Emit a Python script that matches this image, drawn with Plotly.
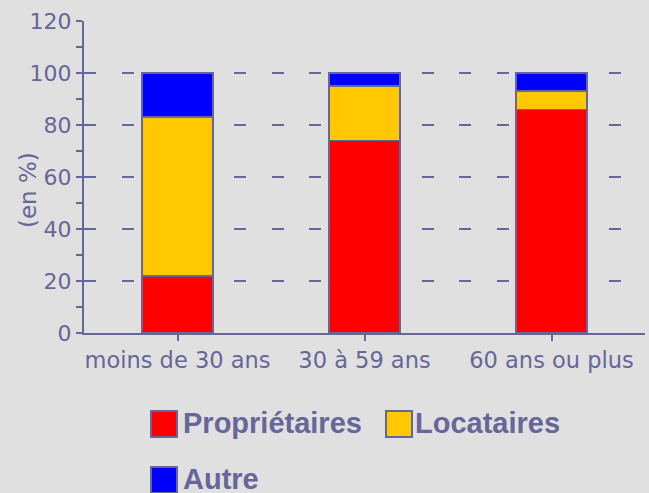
import plotly.graph_objects as go

categories = ["moins de 30 ans", "30 à 59 ans", "60 ans ou plus"]
proprietaires = [22, 74, 86]
locataires = [61, 21, 7]
autre = [17, 5, 7]
series_names = ["Propriétaires", "Locataires", "Autre"]
series_colors = ["#ff0000", "#ffc800", "#0000ff"]
y_ticks = [0, 20, 40, 60, 80, 100, 120]

W, H = 649, 493
L, R, T, B = 84, 4, 21, 160
PW, PH = W - L - R, H - T - B
INK = "#666699"
BG = "#e0e0e0"

def px_x(px):
    return (px - L) / PW

def px_y(py):
    return (H - B - py) / PH

fig = go.Figure()
for name, vals, col in zip(series_names, [proprietaires, locataires, autre], series_colors):
    fig.add_trace(go.Bar(
        x=categories, y=vals, name=name, width=0.38,
        marker=dict(color=col, line=dict(color=INK, width=1.5)),
        showlegend=False,
    ))

fig.update_layout(
    width=W, height=H,
    margin=dict(l=L, r=R, t=T, b=B, pad=0),
    paper_bgcolor=BG, plot_bgcolor=BG,
    barmode="stack",
    hovermode=False,
    font=dict(family="DejaVu Sans", size=22, color=INK),
    xaxis=dict(
        type="category", range=[-0.5, 2.5],
        showline=True, linecolor=INK, linewidth=2,
        ticks="outside", ticklen=6, tickwidth=2, tickcolor=INK,
        showgrid=False, zeroline=False,
        tickfont=dict(family="DejaVu Sans", size=22.5, color=INK),
    ),
    xaxis2=dict(
        overlaying="x", type="linear", range=[-0.5, 2.5],
        tickvals=[0, 1, 2], showticklabels=False,
        ticks="inside", ticklen=6, tickwidth=2, tickcolor=INK,
        showline=False, showgrid=False, zeroline=False, anchor="y",
    ),
    yaxis=dict(
        range=[0, 120], tickvals=y_ticks,
        showline=True, linecolor=INK, linewidth=2,
        ticks="outside", ticklen=6, tickwidth=2, tickcolor=INK,
        showgrid=True, gridcolor=INK, gridwidth=2, griddash="12px,25.5px",
        zeroline=False,
        minor=dict(dtick=10, tick0=0, ticks="outside", ticklen=6, tickwidth=2, tickcolor=INK, showgrid=False),
        tickfont=dict(family="DejaVu Sans", size=22, color=INK),
    ),
    yaxis2=dict(
        overlaying="y", range=[0, 120], tickvals=y_ticks,
        showticklabels=False, side="left", anchor="x",
        ticks="inside", ticklen=11, tickwidth=2, tickcolor=INK,
        minor=dict(dtick=10, tick0=0, ticks="inside", ticklen=6, tickwidth=2, tickcolor=INK, showgrid=False),
        showline=False, showgrid=False, zeroline=False,
    ),
)

# y-axis title
fig.add_annotation(
    text="(en %)", textangle=-90, xref="paper", yref="paper",
    x=px_x(28), y=px_y(190), xanchor="center", yanchor="middle",
    showarrow=False, font=dict(family="DejaVu Sans", size=23, color=INK),
)

# manual legend
legend_items = [
    (series_names[0], series_colors[0], 151, 411, 181),
    (series_names[1], series_colors[1], 386, 411, 413),
    (series_names[2], series_colors[2], 151, 467, 181),
]
for name, col, sx, sy, tx in legend_items:
    fig.add_shape(
        type="rect", xref="paper", yref="paper",
        x0=px_x(sx), x1=px_x(sx + 26), y0=px_y(sy + 26), y1=px_y(sy),
        fillcolor=col, line=dict(color=INK, width=2),
    )
    fig.add_annotation(
        text=name, xref="paper", yref="paper",
        x=px_x(tx), y=px_y(sy + 12), xanchor="left", yanchor="middle",
        showarrow=False,
        font=dict(family="Liberation Sans", size=29, color=INK, weight="bold"),
    )

fig.write_html(
    "out.html",
    config={"displayModeBar": False, "staticPlot": True},
    post_script="document.body.style.margin='0';document.body.style.overflow='hidden';",
)
